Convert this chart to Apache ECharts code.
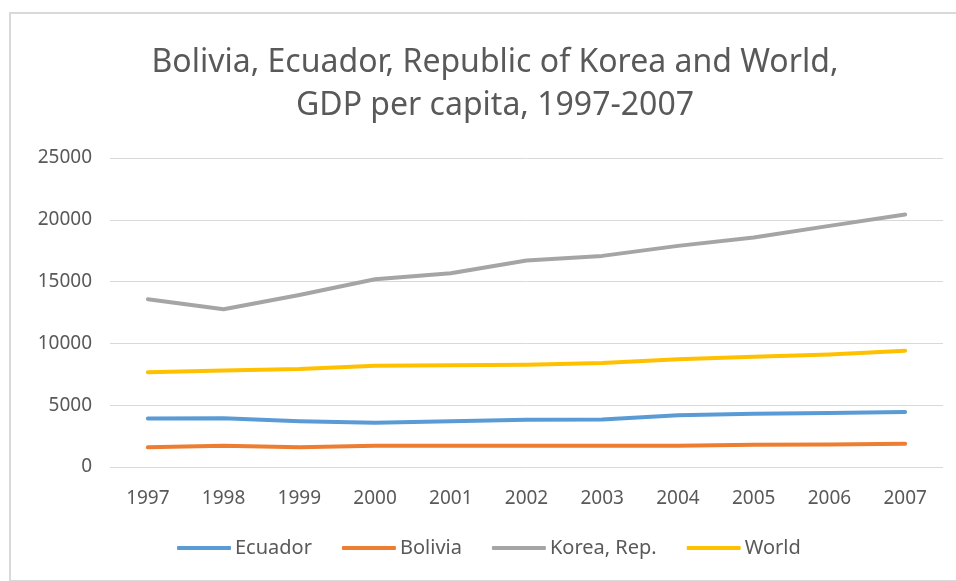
<!DOCTYPE html>
<html>
<head>
<meta charset="utf-8">
<script src="https://cdn.jsdelivr.net/npm/echarts@6/dist/echarts.min.js"></script>
<style>
  html, body { margin: 0; padding: 0; background: #fff; }
  #chart { width: 956px; height: 581px; }
</style>
</head>
<body>
<div id="chart"></div>
<script>
const years = ['1997', '1998', '1999', '2000', '2001', '2002', '2003', '2004', '2005', '2006', '2007'];
const ecuador = [3925, 3950, 3710, 3580, 3710, 3820, 3845, 4190, 4300, 4360, 4440];
const bolivia = [1590, 1720, 1590, 1720, 1720, 1720, 1720, 1720, 1800, 1830, 1880];
const korea = [13570, 12760, 13920, 15190, 15680, 16700, 17080, 17890, 18570, 19510, 20430];
const world = [7660, 7800, 7930, 8200, 8230, 8280, 8410, 8710, 8920, 9110, 9410];

const textColor = '#595959';
const fontFamily = '"Noto Sans", sans-serif';

function line(name, data, color) {
  return {
    name: name,
    type: 'line',
    data: data,
    symbol: 'none',
    lineStyle: { color: color, width: 4, cap: 'round', join: 'round' },
    itemStyle: { color: color },
  };
}

const chart = echarts.init(document.getElementById('chart'));
chart.setOption({
  animation: false,
  textStyle: { fontFamily: fontFamily },
  graphic: [{
    type: 'rect',
    shape: { x: 10, y: 13, width: 960, height: 568 },
    style: { fill: 'none', stroke: '#d9d9d9', lineWidth: 2 },
    silent: true,
  }],
  title: {
    text: 'Bolivia, Ecuador, Republic of Korea and World,\nGDP per capita, 1997-2007',
    left: 490,
    textAlign: 'center',
    top: 36,
    textStyle: {
      color: textColor,
      fontFamily: fontFamily,
      fontSize: 32,
      fontWeight: 'normal',
      lineHeight: 43,
    },
  },
  grid: { left: 110, right: 13, top: 158, bottom: 114 },
  legend: {
    bottom: 18,
    left: 172,
    itemWidth: 54,
    itemHeight: 4,
    itemGap: 30,
    icon: 'roundRect',
    textStyle: { color: textColor, fontSize: 20, fontFamily: fontFamily, padding: [0, 0, 0, -1] },
    data: ['Ecuador', 'Bolivia', 'Korea, Rep.', 'World'],
  },
  xAxis: {
    type: 'category',
    data: years,
    boundaryGap: true,
    axisTick: { show: false },
    axisLine: { show: false },
    axisLabel: { color: textColor, fontSize: 19, margin: 22 },
  },
  yAxis: {
    type: 'value',
    min: 0,
    max: 25000,
    interval: 5000,
    axisLine: { show: false },
    axisTick: { show: false },
    axisLabel: { color: textColor, fontSize: 19, margin: 18, formatter: (v) => String(v) },
    splitLine: { lineStyle: { color: '#d9d9d9', width: 1 } },
  },
  series: [
    line('Ecuador', ecuador, '#5b9bd5'),
    line('Bolivia', bolivia, '#ed7d31'),
    line('Korea, Rep.', korea, '#a5a5a5'),
    line('World', world, '#ffc000'),
  ],
});
</script>
</body>
</html>
